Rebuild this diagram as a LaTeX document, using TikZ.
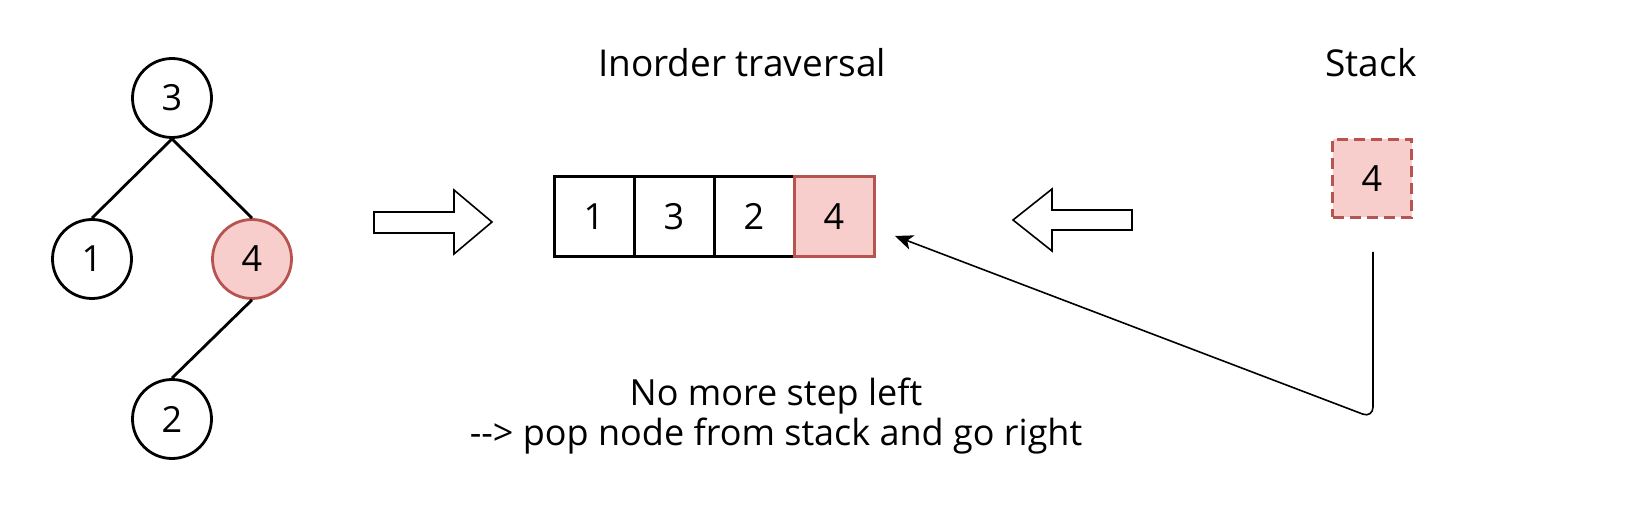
\documentclass[tikz,border=0pt]{standalone}
\usepackage{fontspec}
\setmainfont{Open Sans}
\usetikzlibrary{arrows.meta}
\definecolor{redfill}{HTML}{F8CECC}
\definecolor{redline}{HTML}{B85450}
\begin{document}
\begin{tikzpicture}[x=1pt,y=-1pt,
  font=\fontsize{36}{43}\selectfont,
  treenode/.style={circle, draw=black, line width=2.8pt, minimum size=79pt, inner sep=0pt, fill=white},
  hinode/.style={treenode, draw=redline, fill=redfill},
  cell/.style={rectangle, draw=black, line width=3pt, minimum width=80pt, minimum height=80pt, inner sep=0pt},
  hicell/.style={cell, draw=redline, fill=redfill},
  stackcell/.style={rectangle, draw=redline, fill=redfill, line width=3pt, dash pattern=on 11pt off 6pt, minimum width=79pt, minimum height=78pt, inner sep=0pt},
  edge/.style={line width=2.8pt},
  hollow/.style={draw=black, line width=1.6pt, line join=miter, fill=white},
  conn/.style={line width=1.6pt, rounded corners=11pt, -{Stealth[length=18pt,width=15pt,inset=5pt]}},
  label/.style={anchor=base, inner sep=0pt}
]
\useasboundingbox (0,0) rectangle (1648,510);
% tree
\node[treenode] (n3) at (172,98) {3};
\node[treenode] (n1) at (92,259) {1};
\node[hinode]   (n4) at (252,259) {4};
\node[treenode] (n2) at (172,419) {2};
\draw[edge] (n3.south) -- (n1.north);
\draw[edge] (n3.south) -- (n4.north);
\draw[edge] (n4.south) -- (n2.north);
% right hollow arrow
\draw[hollow] (374,212) -- (454,212) -- (454,190) -- (492,222) -- (454,254) -- (454,233) -- (374,233) -- cycle;
% title
\node[label, font=\fontsize{37}{44}\selectfont] (title) at (742,77) {Inorder traversal};
% cells
\node[cell] (c1) at (594,216.5) {1};
\node[cell] (c2) at (674,216.5) {3};
\node[cell] (c3) at (754,216.5) {2};
\node[hicell] (c4) at (834,216.5) {4};
% left hollow arrow
\draw[hollow] (1132,210) -- (1052,210) -- (1052,189) -- (1013,220) -- (1052,251) -- (1052,230) -- (1132,230) -- cycle;
% stack
\node[label, font=\fontsize{37}{44}\selectfont] (stacklabel) at (1371,77) {Stack};
\node[stackcell] (s4) at (1372,178.5) {4};
% connector
\coordinate (cstart) at (1373,252);
\coordinate (ccorner) at (1373,418);
\coordinate (cend) at (895,236);
\draw[conn] (cstart) -- (ccorner) -- (cend);
% bottom text
\node[label] (t1) at (776,405) {No more step left};
\node[label] (t2) at (776,445) {{-}{-}> pop node from stack and go right};
\end{tikzpicture}
\end{document}
